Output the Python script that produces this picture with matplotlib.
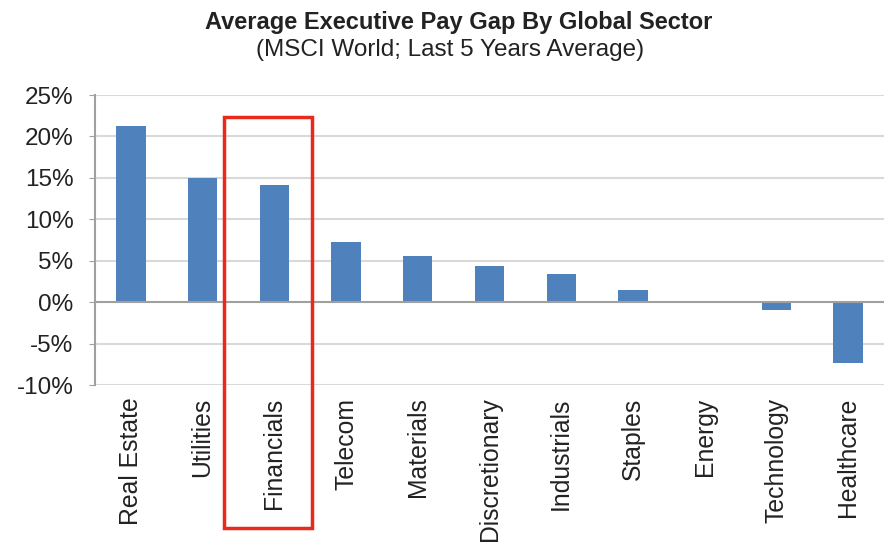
import matplotlib.pyplot as plt
from matplotlib.patches import Rectangle
import matplotlib.ticker as mtick

plt.rcParams['font.family'] = ['Liberation Sans', 'DejaVu Sans']

sectors = ['Real Estate', 'Utilities', 'Financials', 'Telecom', 'Materials',
           'Discretionary', 'Industrials', 'Staples', 'Energy', 'Technology',
           'Healthcare']
pay_gap = [21.2, 15.0, 14.1, 7.2, 5.6, 4.4, 3.4, 1.5, 0.0, -1.0, -7.3]
yticks = [-10, -5, 0, 5, 10, 15, 20, 25]

fig = plt.figure(figsize=(8.86, 5.48), dpi=100)
ax = fig.add_axes([95/886, 1-385/548, 789/886, 290/548])

x = list(range(len(sectors)))
ax.bar(x, pay_gap, width=0.41, color='#4F81BD', zorder=3)

ax.set_xlim(-0.5, len(sectors)-0.5)
ax.set_ylim(-10, 25)
ax.set_yticks(yticks)
ax.yaxis.set_major_formatter(mtick.FuncFormatter(lambda v, p: f'{v:.0f}%'))
ax.set_xticks(x)
ax.set_xticklabels(sectors, rotation=90, fontsize=17.8)
ax.tick_params(axis='y', labelsize=17.5, length=4.5, color='#A0A0A0', pad=11,
               labelcolor='#222222')
ax.tick_params(axis='x', length=0, pad=9, labelcolor='#222222')

for yv in yticks:
    if yv != 0:
        ax.axhline(yv, color='#D9D9D9', lw=1.5, zorder=1)
ax.axhline(0, color='#A0A0A0', lw=1.5, zorder=4)

for s in ['top', 'right', 'bottom']:
    ax.spines[s].set_visible(False)
ax.spines['left'].set_color('#A0A0A0')
ax.spines['left'].set_linewidth(1.5)

# red highlight box around Financials
rect = Rectangle((1.30, -27.2), 1.23, 49.5, fill=False, edgecolor='#E8291C',
                 lw=2.5, clip_on=False, zorder=5)
ax.add_patch(rect)

fig.text(459/886, 1-22/548, 'Average Executive Pay Gap By Global Sector',
         ha='center', va='center', fontsize=17, fontweight='bold', color='#222222')
fig.text(450/886, 1-50/548, '(MSCI World; Last 5 Years Average)',
         ha='center', va='center', fontsize=17.5, color='#222222')

fig.savefig('out.png', dpi=100)
